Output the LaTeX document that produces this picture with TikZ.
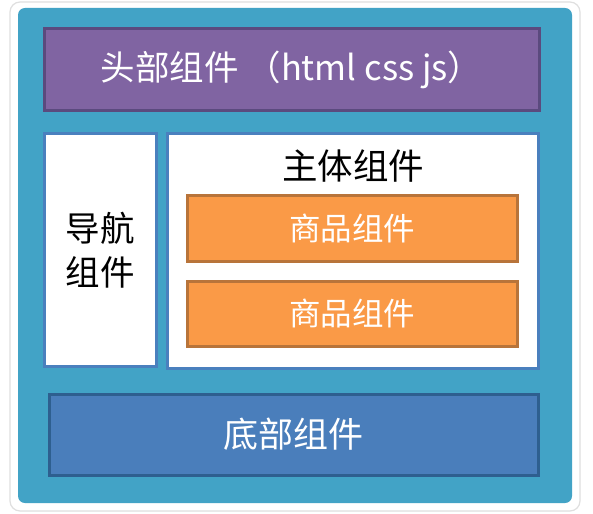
\documentclass[tikz,border=0pt]{standalone}
\usepackage{fontspec}
\newfontfamily\cjk{Noto Sans CJK SC}
\definecolor{outerblue}{HTML}{42A3C6}
\definecolor{purplefill}{HTML}{8064A2}
\definecolor{purpleline}{HTML}{5B4A7E}
\definecolor{panelline}{HTML}{4A80BE}
\definecolor{orangefill}{HTML}{FA9A47}
\definecolor{orangeline}{HTML}{B8743A}
\definecolor{footfill}{HTML}{4A7EBB}
\definecolor{footline}{HTML}{2E5F8F}
\tikzset{
  boxbase/.style={inner sep=0pt, outer sep=0pt, line width=3pt, font=\cjk},
  headbox/.style={boxbase, fill=purplefill, draw=purpleline, text=white},
  panelbox/.style={boxbase, fill=white, draw=panelline},
  goodsbox/.style={boxbase, fill=orangefill, draw=orangeline, text=white},
  footbox/.style={boxbase, fill=footfill, draw=footline, text=white},
  lbl/.style={inner sep=0pt, font=\cjk}
}
\begin{document}
\begin{tikzpicture}[x=1pt,y=-1pt]
\useasboundingbox (0,0) rectangle (593,513);
% white frame with faint shadow
\draw[gray!25, line width=1.2pt, fill=white, rounded corners=10pt] (10,2) rectangle (580,511);
% outer blue
\fill[outerblue, rounded corners=7pt] (18,8) rectangle (572,503);
% header
\node[headbox, minimum width=495pt, minimum height=82pt, anchor=north west] (head) at (44,29) {};
\node[lbl, text=white, font=\cjk\fontsize{34.5}{40}\selectfont] (headtxt) at (head.center) {头部组件 （html css js）};
% nav
\node[panelbox, minimum width=112pt, minimum height=232pt, anchor=north west] (nav) at (44,134) {};
\node[lbl, align=center, font=\cjk\fontsize{34.5}{44}\selectfont] (navtxt) at (nav.center) {导航\\组件};
% main
\node[panelbox, minimum width=371pt, minimum height=234pt, anchor=north west] (main) at (167,134) {};
\node[lbl, font=\cjk\fontsize{35.5}{40}\selectfont] (maintxt) at (353,166) {主体组件};
% goods
\node[goodsbox, minimum width=330pt, minimum height=66pt, anchor=north west, font=\cjk\fontsize{31.5}{36}\selectfont] (g1) at (187,195) {商品组件};
\node[goodsbox, minimum width=330pt, minimum height=65pt, anchor=north west, font=\cjk\fontsize{31.5}{36}\selectfont] (g2) at (187,281) {商品组件};
% footer
\node[footbox, minimum width=489pt, minimum height=81pt, anchor=north west, font=\cjk\fontsize{35}{40}\selectfont] (foot) at (49,394) {底部组件};
\end{tikzpicture}
\end{document}
